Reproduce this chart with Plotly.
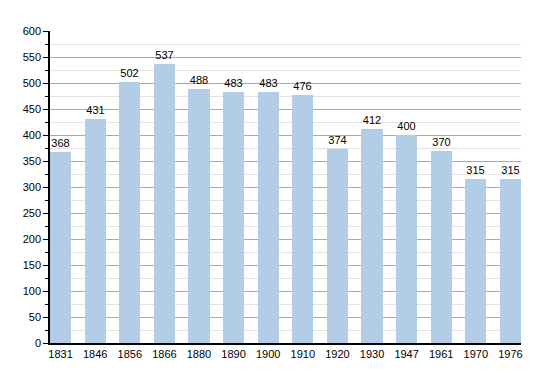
import plotly.graph_objects as go

years = ["1831", "1846", "1856", "1866", "1880", "1890", "1900", "1910", "1920", "1930", "1947", "1961", "1970", "1976"]
population = [368, 431, 502, 537, 488, 483, 483, 476, 374, 412, 400, 370, 315, 315]
y_ticks = list(range(0, 601, 50))

fig = go.Figure()
fig.add_trace(go.Bar(
    x=list(range(len(years))),
    y=population,
    width=0.61,
    marker=dict(color="#b3cde6", line=dict(width=0)),
    text=[str(v) for v in population],
    textposition="outside",
    textfont=dict(family="Liberation Sans, Arial", size=11, color="#000000"),
    cliponaxis=False,
))

fig.update_layout(
    width=542, height=365,
    margin=dict(l=42, r=29, t=23, b=30),
    paper_bgcolor="white", plot_bgcolor="white",
    showlegend=False,
    bargap=0,
    font=dict(family="Liberation Sans, Arial", size=11, color="#000000"),
    xaxis=dict(
        range=[-0.305, len(years) - 1 + 0.305],
        tickmode="array",
        tickvals=list(range(len(years))),
        ticktext=years,
        showgrid=False,
        showline=True, linecolor="#000000", linewidth=1.5,
        ticks="", zeroline=False,
        tickfont=dict(size=11),
    ),
    yaxis=dict(
        range=[0, 600],
        tickmode="array",
        tickvals=y_ticks,
        showgrid=True, gridcolor="#a8a8a8", gridwidth=1,
        showline=True, linecolor="#000000", linewidth=1.5,
        ticks="outside", ticklen=5, tickcolor="#000000",
        zeroline=False,
        tickfont=dict(size=11),
        minor=dict(dtick=25, tick0=0, showgrid=True, gridcolor="#e2e2e2",
                   ticks="outside", ticklen=3, tickcolor="#000000"),
    ),
    uniformtext=dict(mode=False),
)

fig.write_html("out.html")
